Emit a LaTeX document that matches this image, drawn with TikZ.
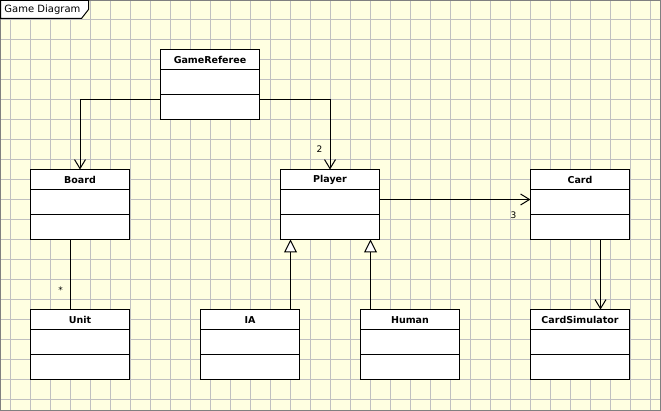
\documentclass[tikz,border=0pt]{standalone}
\usepackage{fontspec}
\setsansfont{DejaVu Sans}
\usetikzlibrary{arrows.meta}

\definecolor{paper}{RGB}{255,255,225}
\definecolor{gridgray}{RGB}{192,192,192}
\definecolor{framegray}{RGB}{128,128,128}

\begin{document}
\begin{tikzpicture}[
    x=1pt, y=-1pt, line width=1pt,
    cls/.style={rectangle, draw, fill=white, anchor=north west, minimum width=99pt, minimum height=70pt, inner sep=0pt, outer sep=0pt},
    clsname/.style={font=\sffamily\bfseries\fontsize{9.5}{11}\selectfont, inner sep=0pt},
    mult/.style={font=\sffamily\fontsize{9}{11}\selectfont, inner sep=0pt},
    assoc/.style={-{Straight Barb[length=9pt, width=11pt]}},
    inherit/.style={-{Triangle[length=13pt, width=13pt, fill=white]}},
]

    \useasboundingbox (0,0) rectangle (661,411);

    % Background and grid
    \fill[paper] (0,0) rectangle (661,411);
    \foreach \x in {10.5,30.5,...,650.5}
        \draw[gridgray] (\x,0) -- (\x,411);
    \foreach \y in {19.5,39.5,...,399.5}
        \draw[gridgray] (0,\y) -- (661,\y);
    \draw[framegray] (0.5,0.5) rectangle (660.5,410.5);

    % Diagram title tab
    \draw[fill=white] (0.5,0.5) -- (88.5,0.5) -- (88.5,9.5) -- (81.5,18.5) -- (0.5,18.5) -- cycle;
    \node[mult, font=\sffamily\fontsize{10}{12}\selectfont, anchor=base west] (title) at (4,13) {Game Diagram};

    % Classes
    \node[cls] (game_ref) at (160.5,49.5) {};
    \node[cls] (board) at (30.5,169.5) {};
    \node[cls] (player) at (280.5,169.5) {};
    \node[cls] (card) at (530.5,169.5) {};
    \node[cls] (unit) at (30.5,309.5) {};
    \node[cls] (ia) at (200.5,309.5) {};
    \node[cls] (human) at (360.5,309.5) {};
    \node[cls] (card_sim) at (530.5,309.5) {};

    % Class names and compartments
    \foreach \c/\t in {game_ref/GameReferee, board/Board, player/Player, card/Card,
                       unit/Unit, ia/IA, human/Human, card_sim/CardSimulator} {
        \node[clsname] (\c_name) at ([yshift=-10.5pt]\c.north) {\t};
        \draw ([yshift=-20pt]\c.north west) -- ([yshift=-20pt]\c.north east);
        \draw ([yshift=-45pt]\c.north west) -- ([yshift=-45pt]\c.north east);
    }

    % Associations
    \draw[assoc] ([yshift=-15pt]game_ref.west) -| (board.north);
    \draw[assoc] ([yshift=-15pt]game_ref.east) -| (player.north);
    \draw[assoc] ([yshift=5pt]player.east) -- ([yshift=5pt]card.west);
    \draw[assoc] ([xshift=20.5pt]card.south) -- ([xshift=20.5pt]card_sim.north);
    \draw ([xshift=-9.5pt]unit.north) -- ([xshift=-9.5pt]board.south);

    % Generalizations
    \draw[inherit] ([xshift=40.5pt]ia.north) -- ([xshift=40.5pt]ia.north |- player.south);
    \draw[inherit] ([xshift=-39.5pt]human.north) -- ([xshift=-39.5pt]human.north |- player.south);

    % Multiplicities
    \node[mult] (mult_player) at (319.5,149.5) {2};
    \node[mult] (mult_card) at (513.5,215) {3};
    \node[mult] (mult_unit) at (60.5,290) {*};

\end{tikzpicture}
\end{document}
